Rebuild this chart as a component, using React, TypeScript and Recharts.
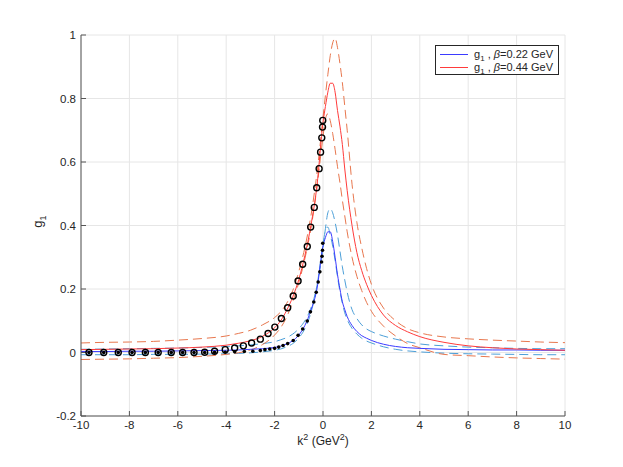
import { ComposedChart, Line, Scatter, XAxis, YAxis, CartesianGrid } from "recharts";

// k^2 grid the curves were read at (GeV^2)
const kGrid = [
  -10, -9, -8, -7, -6, -5, -4, -3.5, -3, -2.5, -2, -1.75, -1.5, -1.25, -1, -0.75, -0.5, -0.25, 0,
  0.1, 0.2, 0.3, 0.4, 0.5, 0.6, 0.7, 0.8, 0.9, 1, 1.2, 1.4, 1.6, 1.8, 2, 2.5, 3, 3.5, 4, 5, 6, 7, 8, 9, 10,
];

// beta = 0.44 GeV
const redMid = [
  0.009, 0.01, 0.011, 0.012, 0.014, 0.017, 0.023, 0.029, 0.037, 0.051, 0.078, 0.1, 0.133, 0.175, 0.23, 0.305, 0.4, 0.525, 0.725,
  0.775, 0.82, 0.848, 0.848, 0.82, 0.762, 0.713, 0.655, 0.578, 0.51, 0.4, 0.315, 0.258, 0.215, 0.18, 0.118, 0.085, 0.065, 0.05,
  0.032, 0.021, 0.015, 0.011, 0.009, 0.007,
];
const redHigh = [
  0.03, 0.032, 0.033, 0.035, 0.039, 0.044, 0.052, 0.06, 0.07, 0.087, 0.11, 0.128, 0.155, 0.195, 0.255, 0.33, 0.43, 0.565, 0.74,
  0.81, 0.875, 0.935, 0.975, 0.99, 0.96, 0.91, 0.85, 0.775, 0.7, 0.53, 0.41, 0.33, 0.265, 0.215, 0.14, 0.1, 0.075, 0.062,
  0.049, 0.043, 0.039, 0.036, 0.033, 0.031,
];
const redLow = [
  -0.022, -0.021, -0.02, -0.018, -0.016, -0.012, -0.006, -0.001, 0.008, 0.025, 0.055, 0.078, 0.112, 0.16, 0.22, 0.295, 0.39, 0.52, 0.68,
  0.735, 0.752, 0.73, 0.69, 0.64, 0.585, 0.535, 0.48, 0.43, 0.38, 0.3, 0.24, 0.195, 0.158, 0.13, 0.083, 0.052, 0.028, 0.015,
  -0.006, -0.01, -0.014, -0.017, -0.019, -0.021,
];

// beta = 0.22 GeV
const blueMid = [
  0.003, 0.003, 0.004, 0.004, 0.005, 0.006, 0.007, 0.008, 0.01, 0.012, 0.016, 0.02, 0.027, 0.037, 0.055, 0.085, 0.133, 0.2, 0.335,
  0.362, 0.38, 0.38, 0.35, 0.3, 0.245, 0.2, 0.16, 0.135, 0.113, 0.085, 0.066, 0.053, 0.045, 0.038, 0.026, 0.019, 0.015, 0.013,
  0.01, 0.009, 0.008, 0.008, 0.007, 0.007,
];
const blueHigh = [
  0.01, 0.011, 0.012, 0.013, 0.014, 0.016, 0.019, 0.021, 0.024, 0.028, 0.034, 0.04, 0.047, 0.058, 0.075, 0.1, 0.14, 0.21, 0.33,
  0.39, 0.44, 0.453, 0.44, 0.41, 0.37, 0.32, 0.27, 0.228, 0.19, 0.135, 0.107, 0.087, 0.074, 0.066, 0.052, 0.042, 0.034, 0.027,
  0.021, 0.017, 0.015, 0.013, 0.012, 0.012,
];
const blueLow = [
  -0.007, -0.007, -0.007, -0.006, -0.006, -0.005, -0.004, -0.003, -0.001, 0.002, 0.007, 0.011, 0.018, 0.028, 0.046, 0.075, 0.125, 0.21, 0.34,
  0.385, 0.395, 0.37, 0.335, 0.29, 0.238, 0.192, 0.155, 0.125, 0.104, 0.076, 0.058, 0.045, 0.036, 0.03, 0.018, 0.01, 0.005, 0.002,
  -0.002, -0.004, -0.005, -0.006, -0.007, -0.007,
];

// lattice points
const openK = [
  -9.67, -9.06, -8.46, -7.89, -7.34, -6.81, -6.27, -5.8, -5.33, -4.89, -4.48, -4.04, -3.65, -3.29, -2.95, -2.59,
  -2.27, -1.99, -1.72, -1.46, -1.23, -1.03, -0.84, -0.65, -0.51, -0.36, -0.26, -0.16, -0.1, -0.05, -0.02, -0.01,
];
const openV = [
  0, 0, 0, 0, 0, 0, 0, 0, 0, 0.001, 0.004, 0.009, 0.014, 0.021, 0.03, 0.042,
  0.06, 0.08, 0.107, 0.141, 0.178, 0.225, 0.278, 0.334, 0.395, 0.457, 0.519, 0.579, 0.631, 0.676, 0.71, 0.731,
];
const dotK = [
  -9.67, -9.06, -8.46, -7.89, -7.34, -6.81, -6.27, -5.8, -5.33, -4.89, -4.48, -4.04, -3.65, -3.25, -2.9, -2.59, -2.4,
  -2.2, -2.0, -1.83, -1.65, -1.46, -1.23, -1.03, -0.84, -0.65, -0.52, -0.38, -0.28, -0.2, -0.13, -0.06, -0.04, -0.02, -0.01,
];
const dotV = [
  0, 0, 0, 0, 0, 0, 0, 0, 0, 0, 0.001, 0.001, 0.002, 0.003, 0.004, 0.006, 0.009,
  0.011, 0.013, 0.017, 0.022, 0.028, 0.038, 0.054, 0.074, 0.099, 0.128, 0.159, 0.19, 0.222, 0.254, 0.285, 0.303, 0.322, 0.344,
];

const xTicks = [-10, -8, -6, -4, -2, 0, 2, 4, 6, 8, 10];
const yTicks = [-0.2, 0, 0.2, 0.4, 0.6, 0.8, 1];

const curve = (vals: number[]) => kGrid.map((k, i) => ({ k, v: vals[i] }));
const points = (ks: number[], vs: number[]) => ks.map((k, i) => ({ k, v: vs[i] }));

const FONT = "'Liberation Sans', Arial, Helvetica, sans-serif";
const BLUE = "#3b3bff";
const RED = "#ff3b3b";
const BLUE_D = "#4c9fd8";
const RED_D = "#e8774e";
const AXIS = "#555";

const tickStyle = { fontSize: 11.5, fill: "#262626", fontFamily: FONT };

const OpenCircle = (p: any) => (
  <circle cx={p.cx} cy={p.cy} r={3} fill="none" stroke="#000" strokeWidth={1.4} />
);
const Dot = (p: any) => <circle cx={p.cx} cy={p.cy} r={1.8} fill="#000" />;

const XLabel = (props: any) => {
  const vb = props.viewBox;
  return (
    <text x={vb.x + vb.width / 2} y={vb.y + 29} textAnchor="middle" fontSize={12} fill="#262626" fontFamily={FONT}>
      k<tspan dy={-5} fontSize={9}>2</tspan>
      <tspan dy={5}> (GeV</tspan>
      <tspan dy={-5} fontSize={9}>2</tspan>
      <tspan dy={5}>)</tspan>
    </text>
  );
};

const YLabel = (props: any) => {
  const vb = props.viewBox;
  const cx = 42;
  const cy = vb.y + vb.height / 2 - 4;
  return (
    <text x={cx} y={cy} textAnchor="middle" fontSize={13} fill="#262626" fontFamily={FONT} transform={`rotate(-90 ${cx} ${cy})`}>
      g<tspan dy={4} fontSize={9}>1</tspan>
    </text>
  );
};

const LegendRow = ({ color, beta }: { color: string; beta: string }) => (
  <div style={{ display: "flex", alignItems: "center", height: 13 }}>
    <div style={{ width: 28, height: 0, borderTop: `1px solid ${color}`, marginRight: 6 }} />
    <span style={{ whiteSpace: "nowrap", lineHeight: "13px" }}>
      g<sub style={{ fontSize: 8, lineHeight: 0, verticalAlign: "-3px" }}>1</sub> , <i>β</i>=0.{beta} GeV
    </span>
  </div>
);

export default function App() {
  return (
    <div style={{ position: "absolute", left: 0, top: 0, width: 623, height: 467, background: "#fff" }}>
      <ComposedChart width={623} height={467} margin={{ top: 35, right: 58, left: 41, bottom: 21 }}>
        <CartesianGrid stroke="#e6e6e6" strokeWidth={1} />
        <XAxis
          dataKey="k"
          type="number"
          domain={[-10, 10]}
          ticks={xTicks}
          allowDataOverflow
          height={30}
          tickSize={-5}
          tickMargin={10}
          tick={tickStyle}
          stroke={AXIS}
          label={<XLabel />}
        />
        <XAxis
          xAxisId="top"
          orientation="top"
          type="number"
          domain={[-10, 10]}
          ticks={xTicks}
          height={0}
          tickSize={-5}
          tick={false}
          stroke={AXIS}
        />
        <YAxis
          dataKey="v"
          type="number"
          domain={[-0.2, 1]}
          ticks={yTicks}
          allowDataOverflow
          width={40}
          tickSize={-5}
          tickMargin={10}
          tick={tickStyle}
          stroke={AXIS}
          label={<YLabel />}
        />
        <YAxis
          yAxisId="right"
          orientation="right"
          type="number"
          domain={[-0.2, 1]}
          ticks={yTicks}
          width={0}
          tickSize={-5}
          tick={false}
          stroke={AXIS}
        />

        <Line data={curve(blueHigh)} dataKey="v" type="monotone" dot={false} stroke={BLUE_D} strokeWidth={1} strokeDasharray="9 5" isAnimationActive={false} />
        <Line data={curve(blueLow)} dataKey="v" type="monotone" dot={false} stroke={BLUE_D} strokeWidth={1} strokeDasharray="9 5" isAnimationActive={false} />
        <Line data={curve(redHigh)} dataKey="v" type="monotone" dot={false} stroke={RED_D} strokeWidth={1} strokeDasharray="9 5" isAnimationActive={false} />
        <Line data={curve(redLow)} dataKey="v" type="monotone" dot={false} stroke={RED_D} strokeWidth={1} strokeDasharray="9 5" isAnimationActive={false} />
        <Line data={curve(blueMid)} dataKey="v" type="monotone" dot={false} stroke={BLUE} strokeWidth={1} isAnimationActive={false} />
        <Line data={curve(redMid)} dataKey="v" type="monotone" dot={false} stroke={RED} strokeWidth={1} isAnimationActive={false} />

        <Scatter data={points(openK, openV)} dataKey="v" shape={OpenCircle} isAnimationActive={false} />
        <Scatter data={points(dotK, dotV)} dataKey="v" shape={Dot} isAnimationActive={false} />
      </ComposedChart>

      <div
        style={{
          position: "absolute",
          left: 435,
          top: 45,
          width: 124,
          height: 30,
          border: "1px solid #262626",
          background: "#fff",
          fontFamily: FONT,
          fontSize: 11,
          color: "#262626",
          padding: "2px 0 0 4px",
          boxSizing: "border-box",
        }}
      >
        <LegendRow color={BLUE} beta="22" />
        <LegendRow color={RED} beta="44" />
      </div>
    </div>
  );
}
